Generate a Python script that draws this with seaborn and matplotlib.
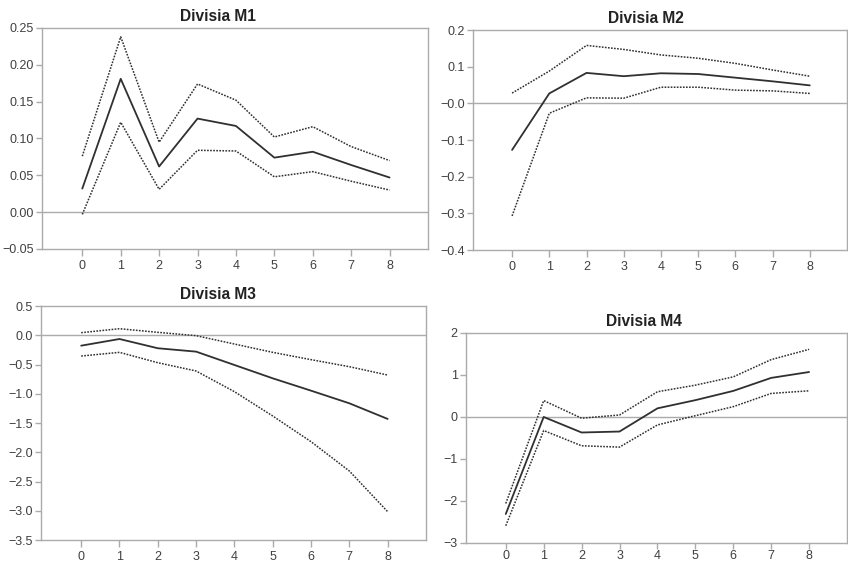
import matplotlib
matplotlib.use("Agg")
import matplotlib.pyplot as plt
import seaborn as sns
import pandas as pd

# Impulse responses over horizons 0..8 with lower/upper confidence bands
horizons = [0, 1, 2, 3, 4, 5, 6, 7, 8]

m1_resp = [0.032, 0.181, 0.062, 0.127, 0.117, 0.074, 0.082, 0.064, 0.047]
m1_upper = [0.076, 0.238, 0.095, 0.174, 0.152, 0.102, 0.116, 0.089, 0.070]
m1_lower = [-0.003, 0.122, 0.031, 0.084, 0.083, 0.048, 0.055, 0.042, 0.030]

m2_resp = [-0.127, 0.027, 0.083, 0.074, 0.082, 0.080, 0.070, 0.060, 0.049]
m2_upper = [0.028, 0.088, 0.158, 0.147, 0.132, 0.123, 0.109, 0.091, 0.074]
m2_lower = [-0.307, -0.027, 0.015, 0.014, 0.044, 0.044, 0.036, 0.034, 0.027]

m3_resp = [-0.178, -0.064, -0.222, -0.280, -0.508, -0.736, -0.947, -1.163, -1.430]
m3_upper = [0.044, 0.112, 0.050, -0.007, -0.150, -0.292, -0.417, -0.537, -0.680]
m3_lower = [-0.355, -0.292, -0.469, -0.611, -0.964, -1.380, -1.819, -2.320, -3.015]

m4_resp = [-2.31, 0.0, -0.37, -0.347, 0.205, 0.40, 0.62, 0.93, 1.07]
m4_upper = [-2.06, 0.39, -0.03, 0.047, 0.60, 0.757, 0.954, 1.365, 1.61]
m4_lower = [-2.59, -0.323, -0.686, -0.718, -0.19, 0.03, 0.245, 0.56, 0.623]

titles = ["Divisia M1", "Divisia M2", "Divisia M3", "Divisia M4"]

m1_yticks = [-0.05, 0.0, 0.05, 0.10, 0.15, 0.20, 0.25]
m1_yticklabels = ["\u22120.05", "0.00", "0.05", "0.10", "0.15", "0.20", "0.25"]
m2_yticks = [-0.4, -0.3, -0.2, -0.1, 0.0, 0.1, 0.2]
m2_yticklabels = ["\u22120.4", "\u22120.3", "\u22120.2", "\u22120.1", "\u22120.0", "0.1", "0.2"]
m3_yticks = [-3.5, -3.0, -2.5, -2.0, -1.5, -1.0, -0.5, 0.0, 0.5]
m3_yticklabels = ["\u22123.5", "\u22123.0", "\u22122.5", "\u22122.0", "\u22121.5",
                  "\u22121.0", "\u22120.5", "0.0", "0.5"]
m4_yticks = [-3, -2, -1, 0, 1, 2]
m4_yticklabels = ["\u22123", "\u22122", "\u22121", "0", "1", "2"]

sns.set_style("white")
plt.rcParams["font.family"] = ["Liberation Sans", "DejaVu Sans"]

fig = plt.figure(figsize=(8.48, 5.65), dpi=100)

panels = [
    (m1_resp, m1_upper, m1_lower, m1_yticks, m1_yticklabels,
     [0.0495, 0.5593, 0.4552, 0.3912], 0.456, 3),
    (m2_resp, m2_upper, m2_lower, m2_yticks, m2_yticklabels,
     [0.5578, 0.5575, 0.4410, 0.3894], 0.463, 3),
    (m3_resp, m3_upper, m3_lower, m3_yticks, m3_yticklabels,
     [0.0483, 0.0442, 0.4540, 0.4142], 0.460, 3),
    (m4_resp, m4_upper, m4_lower, m4_yticks, m4_yticklabels,
     [0.5495, 0.0390, 0.4493, 0.3717], 0.467, 1),
]

spine_col = "#ababab"
text_col = "#404040"
line_col = "#303030"

for (resp, upper, lower, yt, ytl, rect, tx, xpad), title in zip(panels, titles):
    ax = fig.add_axes(rect)
    df = pd.DataFrame({"h": horizons, "resp": resp, "upper": upper, "lower": lower})
    ax.axhline(0, color=spine_col, lw=1.0, zorder=1)
    sns.lineplot(data=df, x="h", y="upper", ax=ax, color=line_col, lw=1.1,
                 linestyle=(0, (1.1, 0.9)), zorder=3)
    sns.lineplot(data=df, x="h", y="lower", ax=ax, color=line_col, lw=1.1,
                 linestyle=(0, (1.1, 0.9)), zorder=3)
    sns.lineplot(data=df, x="h", y="resp", ax=ax, color=line_col, lw=1.3, zorder=4)
    ax.set_xlim(-1.05, 9.0)
    ax.set_ylim(yt[0], yt[-1])
    ax.set_xticks(horizons)
    ax.set_xticklabels([str(h) for h in horizons])
    ax.set_yticks(yt)
    ax.set_yticklabels(ytl)
    ax.set_xlabel("")
    ax.set_ylabel("")
    for s in ax.spines.values():
        s.set_color(spine_col)
        s.set_linewidth(1.0)
    ax.tick_params(axis="both", which="major", direction="out", length=4,
                   width=1.0, color=spine_col, labelcolor=text_col,
                   labelsize=9, pad=2, bottom=True, left=True)
    ax.tick_params(axis="x", length=5 if xpad > 1 else 4, pad=xpad)
    ax.set_title(title, x=tx, fontsize=11.2, fontweight="bold", color="#222222", pad=5)

fig.savefig("out.png", dpi=100)
